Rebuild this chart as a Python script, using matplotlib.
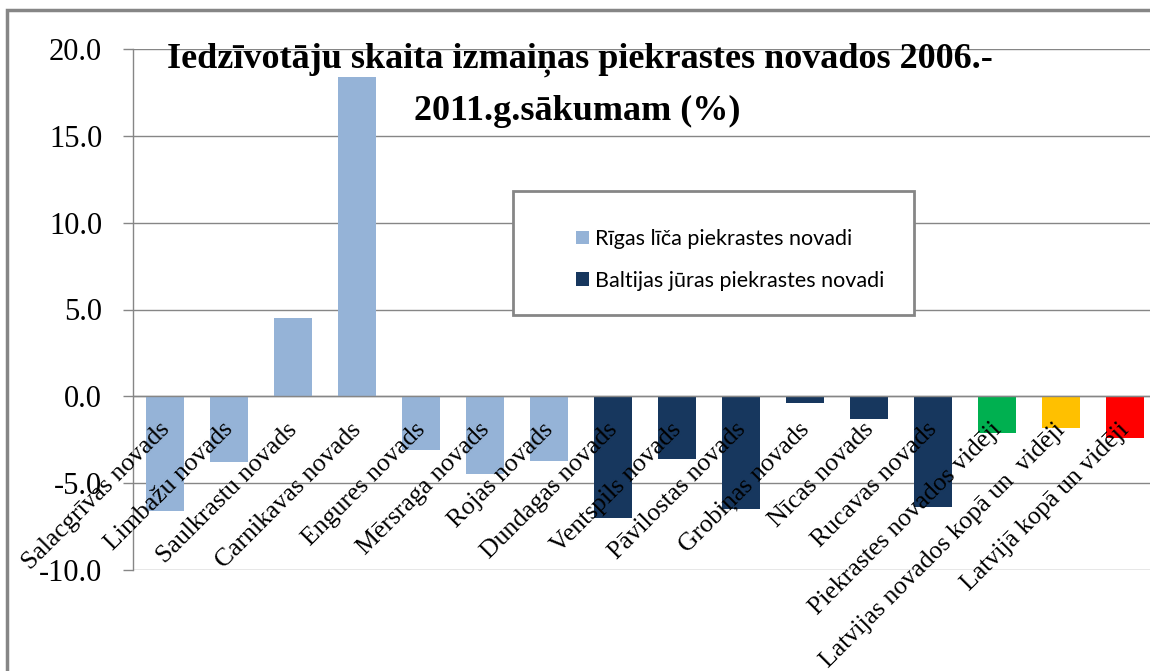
import matplotlib
matplotlib.use("Agg")
import matplotlib.pyplot as plt
import matplotlib.transforms as mtransforms
from matplotlib.patches import Rectangle, Patch

categories = [
    "Salacgrīvas novads", "Limbažu novads", "Saulkrastu novads", "Carnikavas novads",
    "Engures novads", "Mērsraga novads", "Rojas novads", "Dundagas novads",
    "Ventspils novads", "Pāvilostas novads", "Grobiņas novads", "Nīcas novads",
    "Rucavas novads", "Piekrastes novados vidēji", "Latvijas novados kopā un  vidēji",
    "Latvijā kopā un vidēji",
]
values = [-6.6, -3.8, 4.5, 18.4, -3.1, -4.5, -3.7, -7.0,
          -3.6, -6.5, -0.4, -1.3, -6.4, -2.1, -1.8, -2.4]
groups = ["riga"] * 7 + ["baltic"] * 6 + ["avg1", "avg2", "avg3"]
group_colors = {"riga": "#95B3D7", "baltic": "#17375E",
                "avg1": "#00B050", "avg2": "#FFC000", "avg3": "#FF0000"}
legend_labels = ["Rīgas līča piekrastes novadi", "Baltijas jūras piekrastes novadi"]
yticks = [-10, -5, 0, 5, 10, 15, 20]
title_lines = ["Iedzīvotāju skaita izmaiņas piekrastes novados 2006.-",
               "2011.g.sākumam (%)"]

plt.rcParams["axes.unicode_minus"] = False
W, H = 1150, 671
fig = plt.figure(figsize=(W / 100, H / 100), dpi=100)
fig.patch.set_facecolor("white")

# axes: left 133px, right 1157px, top 49px, bottom 570px
ax = fig.add_axes([133 / W, (H - 570) / H, (1157 - 133) / W, (570 - 49) / H])
grid_c = "#868686"

colors = [group_colors[g] for g in groups]
ax.bar(range(len(values)), values, width=0.6, color=colors, zorder=2)
ax.set_xlim(-0.5, len(values) - 0.5)
ax.set_ylim(-10, 20)
ax.set_yticks(yticks)
ax.set_yticklabels([f"{v:.1f}" for v in yticks], family="Liberation Serif", fontsize=22)
ax.tick_params(axis="y", length=7.2, width=1, color=grid_c, pad=15)
ax.set_xticks([])
for s in ["top", "right", "bottom"]:
    ax.spines[s].set_visible(False)
ax.spines["left"].set_color(grid_c)
ax.spines["left"].set_linewidth(1)
ax.yaxis.grid(True, color=grid_c, linewidth=1, zorder=1)
ax.set_axisbelow(True)
ax.axhline(0, color=grid_c, linewidth=1, zorder=3)

# category labels along the zero line
offset = mtransforms.ScaledTranslation(1 / 100, -30 / 100, fig.dpi_scale_trans)
for i, lab in enumerate(categories):
    ax.text(i, 0, lab, rotation=45, rotation_mode="anchor", ha="right", va="center",
            family="Liberation Serif", fontsize=18.5, transform=ax.transData + offset,
            zorder=4)

# title
fig.text(580 / W, (H - 68) / H, title_lines[0], ha="center", va="baseline",
         family="Liberation Serif", fontweight="bold", fontsize=26)
fig.text(577 / W, (H - 120) / H, title_lines[1], ha="center", va="baseline",
         family="Liberation Serif", fontweight="bold", fontsize=26)

# legend with frame
handles = [Patch(facecolor=group_colors["riga"]), Patch(facecolor=group_colors["baltic"])]
fig.add_artist(Rectangle((513 / W, (H - 315) / H), (914 - 513) / W, (315 - 191) / H,
                         transform=fig.transFigure, facecolor="white", edgecolor=grid_c,
                         linewidth=2, zorder=5))
leg = fig.legend(handles, legend_labels, loc="upper left",
                 bbox_to_anchor=(576 / W, (H - 229) / H), frameon=False,
                 prop={"family": "Lato", "size": 15.5}, handlelength=0.6,
                 handleheight=0.6, handletextpad=0.3, labelspacing=1.0,
                 borderpad=0, borderaxespad=0)
leg.set_zorder(6)

# outer chart frame
fig.add_artist(Rectangle((7 / W, -0.1), 1.2, (H - 10) / H + 0.1, transform=fig.transFigure,
                         facecolor="none", edgecolor=grid_c, linewidth=2.5, zorder=0))

fig.savefig("out.png", dpi=100)
